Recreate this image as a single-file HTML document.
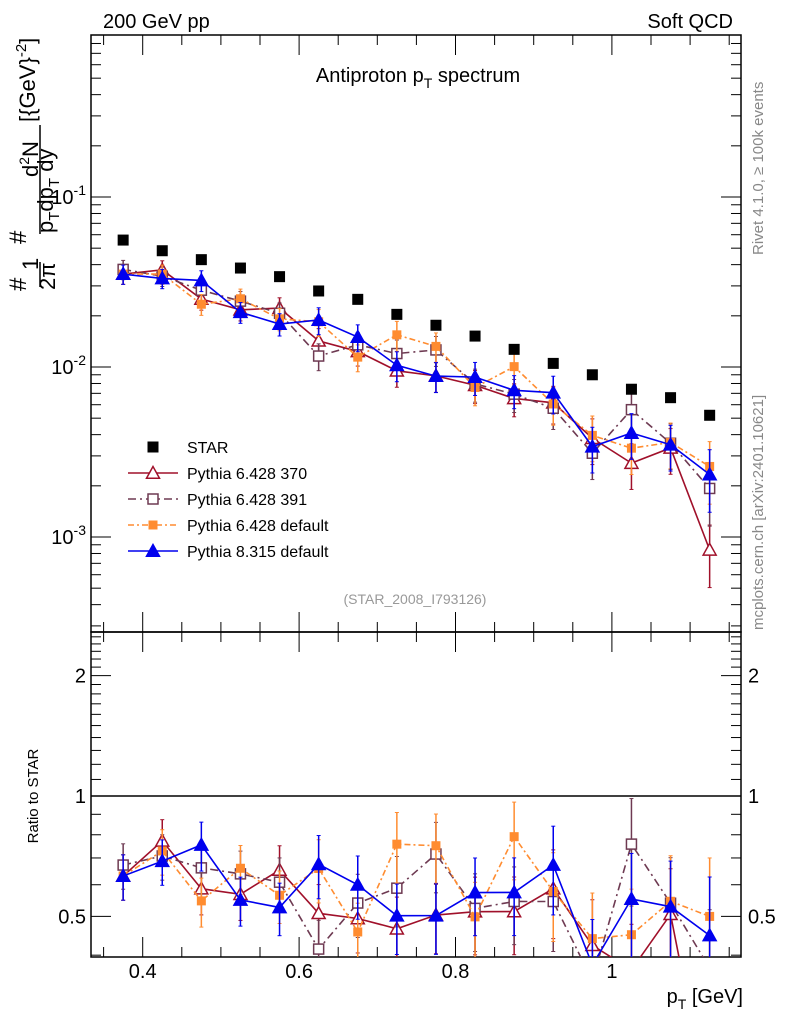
<!DOCTYPE html>
<html><head><meta charset="utf-8"><style>
html,body{margin:0;background:#fff;width:786px;height:1024px;overflow:hidden}
svg{display:block;font-family:"Liberation Sans",sans-serif}
</style></head><body>
<svg id="c" width="786" height="1024" viewBox="0 0 786 1024" xmlns="http://www.w3.org/2000/svg">
<defs>
<clipPath id="cm"><rect x="91" y="35" width="650" height="597"/></clipPath>
<clipPath id="cr"><rect x="91" y="632" width="650" height="325"/></clipPath>
</defs>
<g id="axes"></g>
<g id="marks"></g>
<text x="103" y="28" font-size="20">200 GeV pp</text>
<text x="733" y="28" font-size="20" text-anchor="end">Soft QCD</text>
<text x="418" y="82" font-size="20" text-anchor="middle">Antiproton p<tspan font-size="14" dy="6">T</tspan><tspan dy="-6"> spectrum</tspan></text>
<text x="415" y="604" font-size="14" fill="#999" text-anchor="middle">(STAR_2008_I793126)</text>
<text transform="translate(763,255) rotate(-90)" font-size="15" fill="#888">Rivet 4.1.0, ≥ 100k events</text>
<text transform="translate(763,630) rotate(-90)" font-size="15" fill="#888">mcplots.cern.ch [arXiv:2401.10621]</text>
<g font-size="24">
<text transform="translate(26,291) rotate(-90)">#</text>
<text transform="translate(38,270) rotate(-90)" font-size="22">1</text>
<line x1="40" y1="287" x2="40" y2="262" stroke="#000" stroke-width="1.5"/>
<text transform="translate(55,290) rotate(-90)" font-size="22">2π</text>
<text transform="translate(26,244) rotate(-90)">#</text>
<text transform="translate(38,177) rotate(-90)" font-size="22">d<tspan font-size="14" dy="-9">2</tspan><tspan dy="9">N</tspan></text>
<line x1="40" y1="234" x2="40" y2="125" stroke="#000" stroke-width="1.5"/>
<text transform="translate(53,233) rotate(-90)" font-size="22">p<tspan font-size="15" dy="6">T</tspan><tspan dy="-6">dp</tspan><tspan font-size="15" dy="6">T</tspan><tspan dy="-6"> dy</tspan></text>
<text transform="translate(35,122) rotate(-90)" font-size="22">[{GeV}<tspan font-size="15" dy="-9">-2</tspan><tspan dy="9">]</tspan></text>
</g>
<text transform="translate(38,796) rotate(-90)" font-size="15" text-anchor="middle">Ratio to STAR</text>
<text x="743" y="1003" font-size="20" text-anchor="end">p<tspan font-size="14" dy="6">T</tspan><tspan dy="-6"> [GeV]</tspan></text>
<g id="legend"></g>
</svg>
<script>
const pT=[0.375,0.425,0.475,0.525,0.575,0.625,0.675,0.725,0.775,0.825,0.875,0.925,0.975,1.025,1.075,1.125];
const star=[0.0558,0.0483,0.0428,0.0382,0.0340,0.0280,0.0250,0.0204,0.0176,0.0152,0.0127,0.0105,0.0090,0.0074,0.0066,0.0052];
const py370=[0.0352,0.0373,0.0251,0.0217,0.0222,0.01425,0.01235,0.0095,0.00887,0.00781,0.00653,0.00616,0.00381,0.00272,0.00334,0.00084];
const py391=[0.0375,0.0342,0.0283,0.0244,0.0207,0.0116,0.0135,0.0120,0.0126,0.00796,0.00692,0.00572,0.00311,0.00561,0.00356,0.00193];
const pyDef=[0.0352,0.0352,0.0234,0.0252,0.0192,0.01845,0.01143,0.01546,0.01322,0.00758,0.01005,0.00606,0.00396,0.00333,0.0036,0.0026];
const py8=[0.0352,0.0332,0.0323,0.0210,0.0179,0.0189,0.0150,0.01024,0.00884,0.00872,0.00729,0.00706,0.0034,0.00409,0.00349,0.00233];
const relErr=[0.13,0.13,0.14,0.14,0.15,0.18,0.18,0.2,0.2,0.22,0.22,0.25,0.3,0.3,0.3,0.4];
const xTicks=[0.4,0.6,0.8,1];
const xTickLabels=["0.4","0.6","0.8","1"];
const ratioTicks=[0.5,1,2];
const ratioTickLabels=["0.5","1","2"];

const NS="http://www.w3.org/2000/svg";
const X=p=>142.7+(p-0.4)*782;
const Y=v=>367-170*Math.log10(v/0.01);
const R=r=>796-400*Math.log10(r);
const L=91,Rt=741,T=35,MB=632,B=957;
function el(tag,attrs,parent){const e=document.createElementNS(NS,tag);for(const k in attrs)e.setAttribute(k,attrs[k]);parent.appendChild(e);return e;}
const ax=document.getElementById('axes');
let f1=el('rect',{x:L,y:T,width:Rt-L,height:MB-T,fill:'none',stroke:'#000','stroke-width':1.5},ax);


let f2=el('rect',{x:L,y:MB,width:Rt-L,height:B-MB,fill:'none',stroke:'#000','stroke-width':1.5},ax);


let one=el('line',{x1:L,y1:R(1),x2:Rt,y2:R(1),stroke:'#000','stroke-width':1.5},ax);


for(let p=0.35;p<=1.16;p+=0.05){
  const pp=Math.round(p*100)/100,maj=Math.abs(pp*10-Math.round(pp*10))<1e-6 && Math.round(pp*10)%2==0;
  const x=X(pp),len=maj?20:10;
  for(const [y0,d] of [[MB,-1],[T,1],[B,-1],[MB,1]]){
    el('line',{x1:x,y1:y0,x2:x,y2:y0+d*len,stroke:'#000','stroke-width':1},ax);
  }
}
xTicks.forEach((t,i)=>{const tx=el('text',{x:X(t),y:978,'font-size':20,'text-anchor':'middle'},ax);tx.textContent=xTickLabels[i];

});
for(let e=-4;e<=0;e++){for(let m=1;m<10;m++){const v=m*Math.pow(10,e),y=Y(v);if(y<T||y>MB)continue;const len=m==1?20:10;
 el('line',{x1:L,y1:y,x2:L+len,y2:y,stroke:'#000'},ax);el('line',{x1:Rt,y1:y,x2:Rt-len,y2:y,stroke:'#000'},ax);
 if(m==1){const tx=el('text',{x:86,y:y+7,'font-size':20,'text-anchor':'end'},ax);tx.innerHTML='10<tspan font-size="14" dy="-9">'+e+'</tspan>'.replace('-','−');
 
 }}}
[0.4,0.5,0.6,0.7,0.8,0.9,1,1.1,1.2,1.3,1.4,1.5,1.6,1.7,1.8,1.9,2,2.1,2.2,2.3,2.4,2.5].forEach(r=>{const y=R(r);if(y<MB||y>B)return;const maj=[0.5,1,2].includes(r),len=maj?20:10;
 el('line',{x1:L,y1:y,x2:L+len,y2:y,stroke:'#000'},ax);el('line',{x1:Rt,y1:y,x2:Rt-len,y2:y,stroke:'#000'},ax);});
ratioTicks.forEach((t,i)=>{for(const [x,a] of [[86,'end'],[748,'start']]){const tx=el('text',{x:x,y:R(t)+7,'font-size':20,'text-anchor':a},ax);tx.textContent=ratioTickLabels[i];
 
 }});

const series=[
 {name:'pythia-6428-370',label:'Pythia 6.428 370',data:py370,color:'#a0102a',dash:'',marker:'otri'},
 {name:'pythia-6428-391',label:'Pythia 6.428 391',data:py391,color:'#6e3a52',dash:'8,4,2,4',marker:'osq'},
 {name:'pythia-6428-default',label:'Pythia 6.428 default',data:pyDef,color:'#ff8c30',dash:'6,3,2,3',marker:'fsq'},
 {name:'pythia-8315-default',label:'Pythia 8.315 default',data:py8,color:'#0000ee',dash:'',marker:'ftri'}
];
function marker(type,x,y,color,g){
 if(type=='star')return el('rect',{x:x-5.5,y:y-5.5,width:11,height:11,fill:'#000'},g);
 if(type=='fsq')return el('rect',{x:x-4.5,y:y-4.5,width:9,height:9,fill:color},g);
 if(type=='osq')return el('rect',{x:x-5,y:y-5,width:10,height:10,fill:'#fff',stroke:color,'stroke-width':1.5},g);
 const h=6.5;const pts=`${x},${y-h} ${x-h},${y+h*0.8} ${x+h},${y+h*0.8}`;
 return el('polygon',{points:pts,fill:type=='ftri'?color:'#fff',stroke:color,'stroke-width':1.5},g);
}
const mk=document.getElementById('marks');
function draw(clip,yf,vals){
 const g=el('g',{'clip-path':clip},mk);
 series.forEach(s=>{
  const sg=el('g',{},g);
  
  
  const v=vals(s);
  const pts=v.map((d,i)=>X(pT[i])+','+yf(d)).join(' ');
  el('polyline',{points:pts,fill:'none',stroke:s.color,'stroke-width':1.6,'stroke-dasharray':s.dash},sg);
  v.forEach((d,i)=>{const x=X(pT[i]);const lo=yf(d*(1-relErr[i])),hi=yf(d*(1+relErr[i]));
   el('line',{x1:x,y1:lo,x2:x,y2:hi,stroke:s.color,'stroke-width':1.5},sg);
   el('line',{x1:x-2,y1:lo,x2:x+2,y2:lo,stroke:s.color},sg);el('line',{x1:x-2,y1:hi,x2:x+2,y2:hi,stroke:s.color},sg);
   const m=marker(s.marker,x,yf(d),s.color,sg);
   
   });
 });
 return g;
}
draw('url(#cm)',Y,s=>s.data);
const sg=el('g',{},mk);


star.forEach((d,i)=>{const m=marker('star',X(pT[i]),Y(d),'#000',sg);
 
 });
draw('url(#cr)',R,s=>s.data.map((d,i)=>d/star[i]));
const lg=document.getElementById('legend');


const items=[{label:'STAR',marker:'star',color:'#000',dash:null}].concat(series);
items.forEach((s,i)=>{const y=447+i*26;const g=el('g',{},lg);
 
 
 if(s.dash!==null)el('line',{x1:128,y1:y,x2:178,y2:y,stroke:s.color,'stroke-width':1.6,'stroke-dasharray':s.dash},g);
 marker(s.marker,153,y,s.color,g);
 const t=el('text',{x:187,y:y+6,'font-size':16},g);t.textContent=s.label;});
</script>
</body></html>
